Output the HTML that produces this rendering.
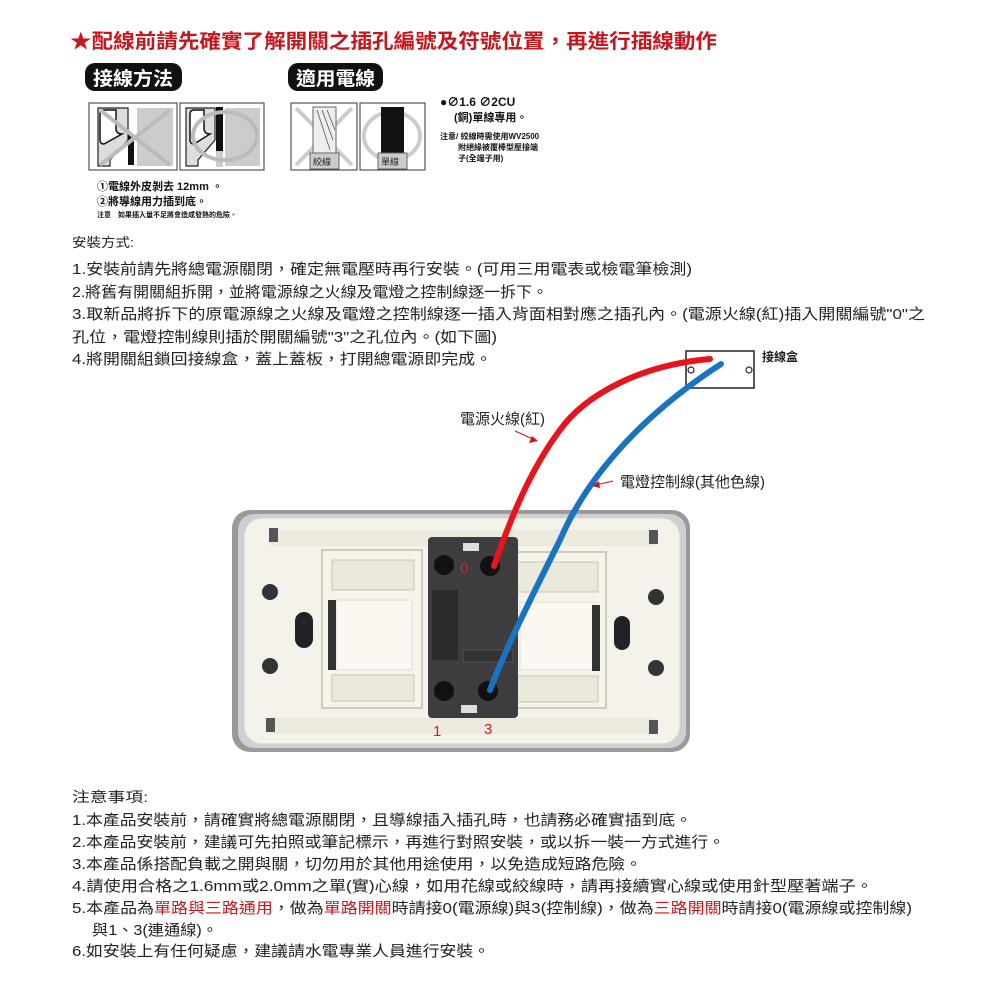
<!DOCTYPE html>
<html><head><meta charset="utf-8"><style>
body{margin:0;background:#fff;}
svg{display:block}
text{font-family:"Liberation Sans","Noto Sans CJK TC",sans-serif;}
</style></head><body>
<svg width="1000" height="1000" viewBox="0 0 1000 1000" xmlns="http://www.w3.org/2000/svg">
<rect width="1000" height="1000" fill="#fff"/>
<!-- title -->
<text x="70" y="48" font-size="20" font-weight="bold" fill="#c8161d" textLength="647" lengthAdjust="spacingAndGlyphs">★配線前請先確實了解開關之插孔編號及符號位置，再進行插線動作</text>

<!-- pills -->
<rect x="85" y="63" width="97" height="28" rx="10" fill="#111"/>
<text x="93" y="85" font-size="19" font-weight="bold" fill="#fff" textLength="80" lengthAdjust="spacingAndGlyphs">接線方法</text>
<rect x="288" y="63" width="95" height="28" rx="10" fill="#111"/>
<text x="296" y="85" font-size="19" font-weight="bold" fill="#fff" textLength="79" lengthAdjust="spacingAndGlyphs">適用電線</text>

<!-- box1 -->
<rect x="89" y="103" width="88" height="67" fill="#fff" stroke="#333"/>
<rect x="137" y="108" width="36" height="58" fill="#ccc"/>
<path d="M98 108 H128 V140 L110 160 V166 H98 Z" fill="#ddd" stroke="#222" stroke-width="1.2"/>
<path d="M100 114 Q100 110 104 110 H116 V128 Q116 134 122 134 L104 144 Q100 144 100 140 Z" fill="#fff" stroke="#111" stroke-width="1.5"/>
<rect x="128" y="135" width="6" height="30" fill="#111"/>
<line x1="100" y1="110" x2="170" y2="165" stroke="#bbb" stroke-width="4"/>
<line x1="170" y1="110" x2="100" y2="165" stroke="#bbb" stroke-width="4"/>
<!-- box2 -->
<rect x="180" y="103" width="84" height="67" fill="#fff" stroke="#333"/>
<rect x="225" y="108" width="35" height="58" fill="#ccc"/>
<path d="M186 108 H215 V140 L198 160 V166 H186 Z" fill="#ddd" stroke="#222" stroke-width="1.2"/>
<path d="M190 114 Q190 110 194 110 H204 V128 Q204 134 210 134 L194 144 Q190 144 190 140 Z" fill="#fff" stroke="#111" stroke-width="1.5"/>
<rect x="216" y="107" width="7" height="44" fill="#111"/>
<rect x="216" y="151" width="7" height="16" fill="#ccc"/>
<ellipse cx="225" cy="136" rx="32" ry="24" fill="none" stroke="#bbb" stroke-width="4"/>
<!-- box3 -->
<rect x="291" y="103" width="66" height="67" fill="#fff" stroke="#333"/>
<line x1="296" y1="108" x2="352" y2="165" stroke="#ccc" stroke-width="4"/>
<line x1="352" y1="108" x2="296" y2="165" stroke="#ccc" stroke-width="4"/>
<rect x="313" y="107" width="23" height="46" fill="#eee" stroke="#666"/>
<path d="M317 110 L330 150 M322 110 L333 140 M327 110 L335 130" stroke="#555" stroke-width="0.8"/>
<rect x="310" y="153" width="29" height="16" fill="#ccc" stroke="#666"/>
<text x="313" y="165" font-size="9" fill="#222">絞線</text>
<!-- box4 -->
<rect x="360" y="103" width="65" height="67" fill="#fff" stroke="#333"/>
<ellipse cx="392" cy="136" rx="28" ry="24" fill="none" stroke="#ccc" stroke-width="4"/>
<rect x="381" y="107" width="23" height="46" fill="#111"/>
<rect x="378" y="153" width="29" height="16" fill="#ccc" stroke="#666"/>
<text x="381" y="165" font-size="9" fill="#222">單線</text>

<text x="440" y="106" font-size="12" font-weight="bold" fill="#111">●∅1.6  ∅2CU</text>
<text x="454" y="121" font-size="11" font-weight="bold" fill="#111">(銅)單線專用。</text>
<text x="440" y="139" font-size="8" font-weight="bold" fill="#111">注意/ 絞線時需使用WV2500</text>
<text x="458" y="150" font-size="8" font-weight="bold" fill="#111">附絕緣被覆棒型壓接端</text>
<text x="458" y="161" font-size="8" font-weight="bold" fill="#111">子(全端子用)</text>

<text x="97" y="190" font-size="11" font-weight="bold" fill="#111">①電線外皮剝去 12mm 。</text>
<text x="97" y="205" font-size="11" font-weight="bold" fill="#111">②將導線用力插到底。</text>
<text x="97" y="217" font-size="7" font-weight="bold" fill="#111">注意　如果插入量不足將會造成發熱的危險。</text>

<!-- install text -->
<g font-size="15" fill="#222">
<text x="72" y="247" font-size="13" textLength="62" lengthAdjust="spacingAndGlyphs">安裝方式:</text>
<text x="72" y="274" textLength="620" lengthAdjust="spacingAndGlyphs">1.安裝前請先將總電源關閉，確定無電壓時再行安裝。(可用三用電表或檢電筆檢測)</text>
<text x="72" y="297" textLength="476" lengthAdjust="spacingAndGlyphs">2.將舊有開關組拆開，並將電源線之火線及電燈之控制線逐一拆下。</text>
<text x="72" y="319" textLength="853" lengthAdjust="spacingAndGlyphs">3.取新品將拆下的原電源線之火線及電燈之控制線逐一插入背面相對應之插孔內。(電源火線(紅)插入開關編號"0"之</text>
<text x="72" y="342" textLength="425" lengthAdjust="spacingAndGlyphs">孔位，電燈控制線則插於開關編號"3"之孔位內。(如下圖)</text>
<text x="72" y="364" textLength="420" lengthAdjust="spacingAndGlyphs">4.將開關組鎖回接線盒，蓋上蓋板，打開總電源即完成。</text>
</g>

<!-- plate -->
<rect x="232" y="510" width="458" height="242" rx="18" fill="#9a9a9a"/>
<rect x="238" y="514" width="448" height="234" rx="16" fill="#cfcfcf"/>
<rect x="244" y="518" width="436" height="226" rx="18" fill="#f4f2ea" stroke="#d8d4c4"/>
<rect x="270" y="530" width="385" height="16" fill="#ece9df"/>
<rect x="270" y="718" width="385" height="16" fill="#ece9df"/>
<rect x="269" y="528" width="9" height="14" fill="#555"/>
<rect x="649" y="530" width="9" height="14" fill="#555"/>
<rect x="266" y="718" width="9" height="14" fill="#555"/>
<rect x="649" y="720" width="9" height="14" fill="#555"/>
<circle cx="270" cy="592" r="8" fill="#333"/>
<circle cx="270" cy="666" r="8" fill="#333"/>
<circle cx="656" cy="597" r="8" fill="#333"/>
<circle cx="656" cy="668" r="8" fill="#333"/>
<rect x="295" y="612" width="18" height="36" rx="9" fill="#222"/>
<rect x="614" y="616" width="16" height="34" rx="8" fill="#222"/>
<!-- inner frames -->
<rect x="322" y="550" width="100" height="158" fill="#f6f4ea" stroke="#cfcabb" stroke-width="2"/>
<rect x="332" y="560" width="82" height="30" fill="#ebe8dc" stroke="#c9c4b4"/>
<rect x="336" y="600" width="76" height="70" fill="#faf8f0" stroke="#ddd"/>
<rect x="332" y="675" width="82" height="26" fill="#ebe8dc" stroke="#c9c4b4"/>
<rect x="508" y="552" width="98" height="156" fill="#f6f4ea" stroke="#cfcabb" stroke-width="2"/>
<rect x="516" y="562" width="82" height="30" fill="#ebe8dc" stroke="#c9c4b4"/>
<rect x="520" y="602" width="74" height="68" fill="#faf8f0" stroke="#ddd"/>
<rect x="516" y="676" width="82" height="26" fill="#ebe8dc" stroke="#c9c4b4"/>
<rect x="328" y="600" width="8" height="70" fill="#333"/>
<rect x="592" y="605" width="8" height="66" fill="#333"/>
<!-- switch body -->
<rect x="428" y="537" width="90" height="181" rx="4" fill="#3d3d3f"/>
<rect x="463" y="543" width="16" height="8" fill="#ddd"/>
<circle cx="444" cy="565" r="10" fill="#111"/>
<circle cx="490" cy="566" r="10" fill="#111"/>
<circle cx="444" cy="691" r="10" fill="#111"/>
<circle cx="488" cy="691" r="10" fill="#111"/>
<rect x="461" y="705" width="16" height="8" fill="#ddd"/>
<rect x="432" y="590" width="26" height="70" fill="#2a2a2a"/>
<rect x="463" y="650" width="50" height="12" fill="#333" stroke="#666" stroke-width="0.6"/>
<!-- numbers -->
<text x="460" y="573" font-size="15" fill="#d42020">0</text>
<text x="433" y="736" font-size="15" fill="#d42020">1</text>
<text x="484" y="734" font-size="15" fill="#d42020">3</text>

<!-- junction box -->
<rect x="686" y="351" width="68" height="37" fill="#fff" stroke="#222" stroke-width="1.5"/>
<circle cx="691" cy="370" r="3" fill="#fff" stroke="#222" stroke-width="1.2"/>
<circle cx="749" cy="370" r="3" fill="#fff" stroke="#222" stroke-width="1.2"/>
<text x="762" y="361" font-size="12" font-weight="bold" fill="#222">接線盒</text>

<!-- wires -->
<path d="M710 359 C640 365 585 395 560 430 C530 470 510 520 494 566" fill="none" stroke="#e8141d" stroke-width="6" stroke-linecap="round"/>
<path d="M721 364 C650 410 590 470 560 540 C530 600 505 650 490 690" fill="none" stroke="#1a73c0" stroke-width="6" stroke-linecap="round"/>

<text x="460" y="424" font-size="15" fill="#222">電源火線(紅)</text>
<path d="M515 431 L535 440" stroke="#c8161d" stroke-width="1"/>
<path d="M538 441 L529 443 L532 436 Z" fill="#c8161d"/>
<text x="620" y="487" font-size="15" fill="#222">電燈控制線(其他色線)</text>
<path d="M613 481 L596 485" stroke="#c8161d" stroke-width="1"/>
<path d="M592 486 L599 481 L600 488 Z" fill="#c8161d"/>

<!-- notes -->
<g font-size="15" fill="#222">
<text x="72" y="802" font-size="14" textLength="76" lengthAdjust="spacingAndGlyphs">注意事項:</text>
<text x="72" y="825" textLength="620" lengthAdjust="spacingAndGlyphs">1.本產品安裝前，請確實將總電源關閉，且導線插入插孔時，也請務必確實插到底。</text>
<text x="72" y="847" textLength="653" lengthAdjust="spacingAndGlyphs">2.本產品安裝前，建議可先拍照或筆記標示，再進行對照安裝，或以拆一裝一方式進行。</text>
<text x="72" y="869" textLength="570" lengthAdjust="spacingAndGlyphs">3.本產品係搭配負載之開與關，切勿用於其他用途使用，以免造成短路危險。</text>
<text x="72" y="891" textLength="801" lengthAdjust="spacingAndGlyphs">4.請使用合格之1.6mm或2.0mm之單(實)心線，如用花線或絞線時，請再接續實心線或使用針型壓著端子。</text>
<text x="72" y="913" textLength="840" lengthAdjust="spacingAndGlyphs">5.本產品為<tspan fill="#c8161d">單路與三路通用</tspan>，做為<tspan fill="#c8161d">單路開關</tspan>時請接0(電源線)與3(控制線)，做為<tspan fill="#c8161d">三路開關</tspan>時請接0(電源線或控制線)</text>
<text x="92" y="935" textLength="126" lengthAdjust="spacingAndGlyphs">與1、3(連通線)。</text>
<text x="72" y="956" textLength="418" lengthAdjust="spacingAndGlyphs">6.如安裝上有任何疑慮，建議請水電專業人員進行安裝。</text>
</g>
</svg>
</body></html>
